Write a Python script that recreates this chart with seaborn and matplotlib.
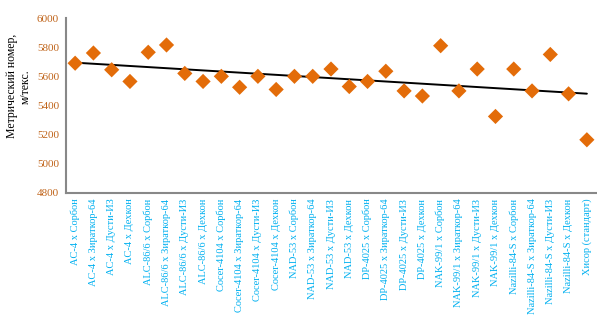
import matplotlib
matplotlib.use("Agg")
import matplotlib.pyplot as plt
import seaborn as sns
import numpy as np
import pandas as pd

categories = [
    "AC-4 x Сорбон", "AC-4 x Зираткор-64", "AC-4 x Дусти-ИЗ", "AC-4 x Дехкон",
    "ALC-86/6 x Сорбон", "ALC-86/6 x Зираткор-64", "ALC-86/6 x Дусти-ИЗ", "ALC-86/6 x Дехкон",
    "Cocer-4104 x Сорбон", "Cocer-4104 x Зираткор-64", "Cocer-4104 x Дусти-ИЗ", "Cocer-4104 x Дехкон",
    "NAD-53 x Сорбон", "NAD-53 x Зираткор-64", "NAD-53 x Дусти-ИЗ", "NAD-53 x Дехкон",
    "DP-4025 x Сорбон", "DP-4025 x Зираткор-64", "DP-4025 x Дусти-ИЗ", "DP-4025 x Дехкон",
    "NAK-99/1 x Сорбон", "NAK-99/1 x Зираткор-64", "NAK-99/1 x Дусти-ИЗ", "NAK-99/1 x Дехкон",
    "Nazilli-84-S x Сорбон", "Nazilli-84-S x Зираткор-64", "Nazilli-84-S x Дусти-ИЗ", "Nazilli-84-S x Дехкон",
    "Хисор (стандарт)",
]
values = [5690, 5760, 5645, 5565, 5765, 5815, 5620, 5565,
          5600, 5525, 5600, 5510, 5600, 5600, 5650, 5530,
          5565, 5635, 5500, 5465, 5810, 5500, 5650, 5325,
          5650, 5500, 5750, 5480, 5165]
y_ticks = [4800, 5000, 5200, 5400, 5600, 5800, 6000]

df = pd.DataFrame({"x": np.arange(len(categories)), "y": values})

sns.set_style("white")
plt.rcParams["font.family"] = ["Liberation Serif", "DejaVu Serif"]

fig = plt.figure(figsize=(5.97, 3.23), dpi=100)
ax = fig.add_axes([66/597, 1-193/323, (596-66)/597, (193-18)/323])

sns.regplot(data=df, x="x", y="y", ax=ax, scatter=False, ci=None, truncate=True,
            line_kws=dict(color="black", lw=1.4))
sns.scatterplot(data=df, x="x", y="y", ax=ax, marker="D", s=60, color="#E36C09",
                edgecolor="none", zorder=3)

ax.set_xlim(-0.5, len(categories) - 0.5)
ax.set_ylim(4800, 6000)
ax.set_yticks(y_ticks)
ax.set_yticklabels([str(v) for v in y_ticks], color="#C0641A", fontsize=8)
ax.set_xticks(np.arange(len(categories)))
ax.set_xticklabels(categories, rotation=90, color="#00B0F0", fontsize=7.5)
ax.set_xticks(np.arange(len(categories)) + 0.5, minor=True)
ax.tick_params(axis="x", which="major", length=0, pad=4)
ax.tick_params(axis="x", which="minor", length=3, color="#888888", direction="out")
ax.tick_params(axis="y", length=3, color="#888888", direction="out", pad=2)
ax.set_xlabel("")
ax.set_ylabel("Метрический номер,\nм/текс.", fontsize=8.5, color="black")
ax.yaxis.set_label_coords(-0.064, 0.61)

for side in ["top", "right"]:
    ax.spines[side].set_visible(False)
for side in ["left", "bottom"]:
    ax.spines[side].set_color("#888888")
    ax.spines[side].set_linewidth(1.5)

fig.savefig("out.png", dpi=100)
